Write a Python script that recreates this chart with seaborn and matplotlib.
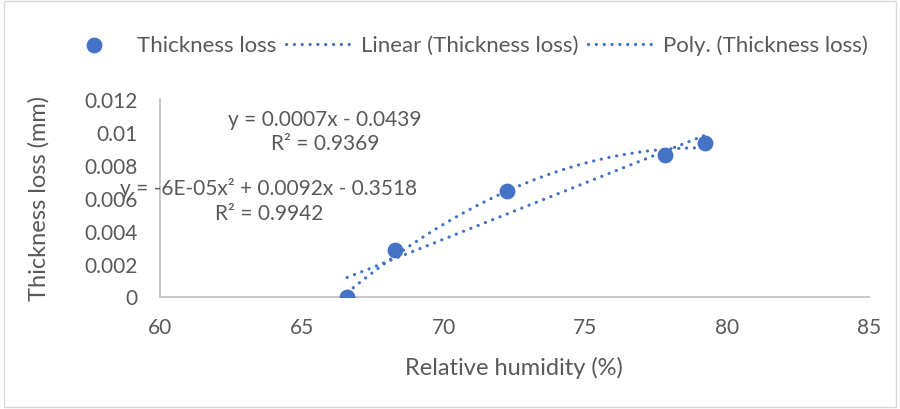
import numpy as np
import pandas as pd
import matplotlib
matplotlib.use("Agg")
import matplotlib.pyplot as plt
import seaborn as sns
from matplotlib.patches import Rectangle

# Data
humidity = [66.6, 68.3, 72.25, 77.8, 79.2]
thickness_loss = [0.0, 0.0028, 0.0064, 0.0086, 0.0093]
series_name = "Thickness loss"
linear_label = "Linear (Thickness loss)"
poly_label = "Poly. (Thickness loss)"
linear_eq = "y = 0.0007x - 0.0439\nR² = 0.9369"
poly_eq = "y = -6E-05x² + 0.0092x - 0.3518\nR² = 0.9942"
x_ticks = [60, 65, 70, 75, 80, 85]
y_ticks = [0, 0.002, 0.004, 0.006, 0.008, 0.01, 0.012]
y_tick_labels = ["0", "0.002", "0.004", "0.006", "0.008", "0.01", "0.012"]

sns.set_theme(style="white")
plt.rcParams['font.family'] = ['Lato', 'DejaVu Sans']

BLUE = "#4472C4"
GREY_TXT = "#595959"
AXIS = "#BFBFBF"

fig = plt.figure(figsize=(9, 4.1), dpi=100)
ax = fig.add_axes([160/900, 1-297.5/410, (869-160)/900, (297.5-100)/410])

df = pd.DataFrame({"x": humidity, "y": thickness_loss})

# Trendlines fitted from the data
xs = np.array(humidity)
ys = np.array(thickness_loss)
lin = np.polyfit(xs, ys, 1)
quad = np.polyfit(xs, ys, 2)
xfit = np.linspace(xs.min(), xs.max(), 200)
fit_df = pd.DataFrame({"x": xfit,
                       "lin": np.polyval(lin, xfit),
                       "quad": np.polyval(quad, xfit)})

dot = (0, (0.05, 2.4))
sns.lineplot(data=fit_df, x="x", y="lin", ax=ax, color=BLUE, lw=2.3,
             linestyle=dot, dash_capstyle="round", label=linear_label, zorder=2)
sns.lineplot(data=fit_df, x="x", y="quad", ax=ax, color=BLUE, lw=2.3,
             linestyle=dot, dash_capstyle="round", label=poly_label, zorder=2)
sns.scatterplot(data=df, x="x", y="y", ax=ax, color=BLUE, s=130,
                edgecolor=BLUE, linewidth=0, label=series_name, zorder=3)

ax.set_xlim(60, 85)
ax.set_ylim(0, 0.012)
ax.set_xticks(x_ticks)
ax.set_yticks(y_ticks)
ax.set_yticklabels(y_tick_labels)
ax.tick_params(axis="both", length=0, labelsize=15, colors=GREY_TXT)
ax.tick_params(axis="x", pad=15)
ax.tick_params(axis="y", pad=16)
ax.grid(False)
for s in ["top", "right"]:
    ax.spines[s].set_visible(False)
for s in ["bottom", "left"]:
    ax.spines[s].set_color(AXIS)
    ax.spines[s].set_linewidth(1.2)

ax.set_xlabel("Relative humidity (%)", fontsize=17, color=GREY_TXT)
ax.set_ylabel("Thickness loss (mm)", fontsize=17, color=GREY_TXT)
ax.xaxis.set_label_coords((514-160)/709, (297.5-357)/197.5)
ax.yaxis.set_label_coords((50-160)/709, 0.5)

# Equation labels
ax.text(325/900, 1-132/410, linear_eq, transform=fig.transFigure, ha="center",
        va="center", fontsize=15, color=GREY_TXT, linespacing=1.3)
ax.text(269/900, 1-201/410, poly_eq, transform=fig.transFigure, ha="center",
        va="center", fontsize=15, color=GREY_TXT, linespacing=1.3)

# Legend: order scatter, linear, poly
handles, labels = ax.get_legend_handles_labels()
order = [labels.index(series_name), labels.index(linear_label), labels.index(poly_label)]
leg = fig.legend([handles[i] for i in order], [labels[i] for i in order],
                 loc="center", bbox_to_anchor=(465/900, 1-46/410), ncol=3,
                 frameon=False, fontsize=16, handlelength=2.9, columnspacing=0.4,
                 handletextpad=0.5, borderaxespad=0)
for t in leg.get_texts():
    t.set_color(GREY_TXT)
if ax.get_legend():
    ax.get_legend().remove()

# Outer chart border
fig.patches.append(Rectangle((0.004, 0.004), 0.992, 0.992, transform=fig.transFigure,
                             fill=False, edgecolor="#D9D9D9", lw=1))

fig.savefig("out.png", dpi=100)
